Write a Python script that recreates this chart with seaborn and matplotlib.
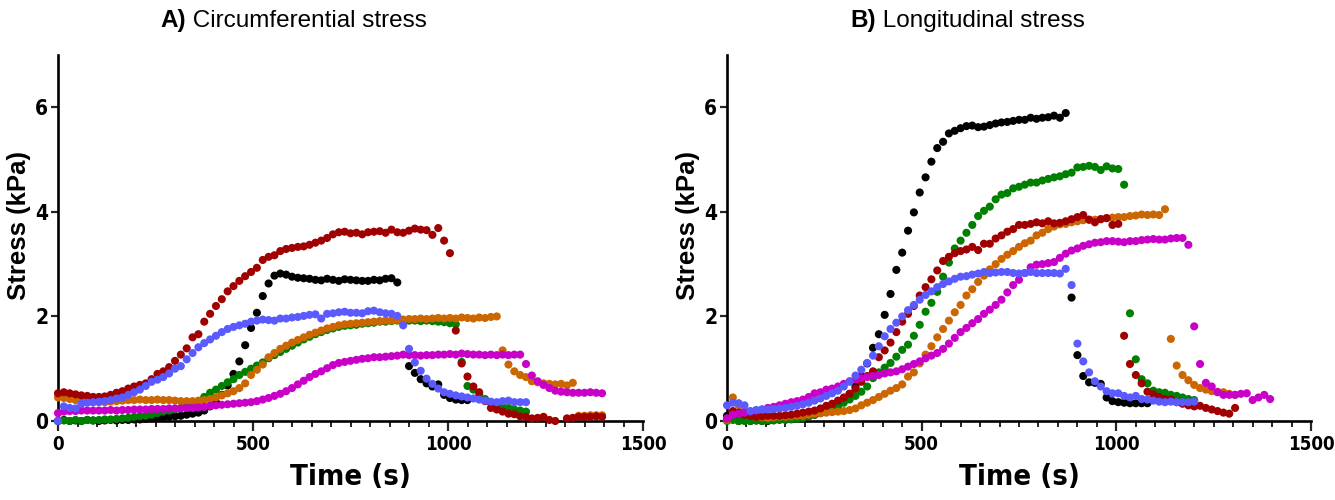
import numpy as np
import pandas as pd
import matplotlib
matplotlib.use("Agg")
import matplotlib.pyplot as plt
from matplotlib.ticker import MultipleLocator, FixedLocator
from matplotlib import font_manager as fm
import seaborn as sns

# ---------------- data (stress in kPa, sampled every 15 s) ----------------
dt = 15
nan = np.nan

# Panel A: circumferential stress
circ_black = [0.0, 0.02, 0.0, 0.01, 0.0, 0.02, 0.01, 0.0, 0.01, 0.02, 0.01, 0.02, 0.02, 0.03, 0.03, 0.04,
              0.05, 0.06, 0.07, 0.08, 0.09, 0.1, 0.12, 0.14, 0.16, 0.2, 0.28, 0.36, 0.5, 0.68, 0.9, 1.14,
              1.45, 1.78, 2.07, 2.39, 2.63, 2.78, 2.82, 2.8, 2.76, 2.74, 2.73, 2.72, 2.7, 2.69, 2.72, 2.7,
              2.68, 2.71, 2.7, 2.69, 2.68, 2.68, 2.7, 2.69, 2.72, 2.73, 2.65, nan, 1.05, 0.92, 0.8, 0.72,
              0.66, 0.7, 0.5, 0.44, 0.41, 0.4, 0.4]
circ_green = [0.0, 0.01, 0.0, 0.02, 0.0, 0.02, 0.01, 0.02, 0.03, 0.03, 0.04, 0.05, 0.06, 0.08, 0.09, 0.1,
              0.12, 0.15, 0.18, 0.2, 0.22, 0.25, 0.28, 0.32, 0.38, 0.46, 0.54, 0.6, 0.67, 0.74, 0.8, 0.88,
              0.94, 1.0, 1.06, 1.12, 1.2, 1.26, 1.32, 1.38, 1.44, 1.5, 1.56, 1.61, 1.66, 1.7, 1.74, 1.77,
              1.8, 1.82, 1.83, 1.84, 1.86, 1.87, 1.88, 1.9, 1.9, 1.91, 1.92, 1.92, 1.92, 1.92, 1.91, 1.92,
              1.91, 1.9, 1.89, 1.87, 1.85, 1.13, 0.67, 0.6, 0.5, 0.42, 0.35, 0.3, 0.27, 0.25, 0.22, 0.2, 0.18]
circ_orange = [0.45, 0.44, 0.42, 0.4, 0.38, 0.37, 0.36, 0.36, 0.36, 0.37, 0.38, 0.39, 0.4, 0.4, 0.41, 0.4,
               0.4, 0.41, 0.4, 0.4, 0.39, 0.38, 0.38, 0.38, 0.39, 0.4, 0.42, 0.45, 0.49, 0.53, 0.57, 0.63,
               0.72, 0.88, 0.98, 1.08, 1.22, 1.3, 1.38, 1.44, 1.5, 1.55, 1.6, 1.65, 1.69, 1.73, 1.77, 1.8,
               1.83, 1.85, 1.86, 1.87, 1.88, 1.89, 1.9, 1.91, 1.92, 1.92, 1.93, 1.94, 1.95, 1.95, 1.96, 1.95,
               1.96, 1.97, 1.96, 1.97, 1.96, 1.98, 1.97, 1.96, 1.98, 1.97, 1.99, 2.0, 1.35, 1.08, 0.95, 0.88,
               0.84, 0.76, 0.74, 0.72, 0.71, 0.7, 0.71, 0.68, 0.73, 0.1, 0.1, 0.11, 0.11, 0.11]
circ_red = [0.53, 0.55, 0.53, 0.51, 0.49, 0.48, 0.46, 0.46, 0.47, 0.5, 0.54, 0.57, 0.62, 0.66, 0.69, 0.72,
            0.8, 0.9, 0.95, 1.03, 1.15, 1.27, 1.39, 1.6, 1.66, 1.9, 2.05, 2.2, 2.33, 2.48, 2.58, 2.68,
            2.77, 2.85, 2.93, 3.08, 3.14, 3.17, 3.25, 3.29, 3.31, 3.33, 3.34, 3.37, 3.41, 3.45, 3.5, 3.57,
            3.61, 3.62, 3.59, 3.6, 3.57, 3.61, 3.62, 3.63, 3.6, 3.66, 3.61, 3.6, 3.64, 3.68, 3.66, 3.65,
            3.56, 3.69, 3.45, 3.21, 1.73, 1.1, 0.85, 0.66, 0.55, 0.38, 0.25, 0.22, 0.18, 0.14, 0.13, 0.09,
            0.08, 0.05, 0.06, 0.08, 0.02, 0.0, nan, 0.05, 0.06, 0.08, 0.08, 0.08, 0.09, 0.08]
circ_magenta = [0.15, 0.18, 0.19, 0.19, 0.2, 0.2, 0.2, 0.2, 0.2, 0.21, 0.2, 0.21, 0.21, 0.22, 0.22, 0.22,
                0.23, 0.23, 0.23, 0.24, 0.24, 0.24, 0.25, 0.25, 0.26, 0.27, 0.29, 0.3, 0.31, 0.32, 0.33, 0.34,
                0.35, 0.36, 0.38, 0.41, 0.44, 0.48, 0.52, 0.57, 0.63, 0.7, 0.77, 0.84, 0.9, 0.95, 1.01, 1.07,
                1.11, 1.13, 1.15, 1.17, 1.19, 1.2, 1.22, 1.22, 1.23, 1.24, 1.25, 1.27, 1.26, 1.26, 1.25, 1.26,
                1.26, 1.27, 1.27, 1.28, 1.27, 1.29, 1.28, 1.27, 1.27, 1.26, 1.27, 1.26, 1.27, 1.26, 1.27, 1.27,
                1.09, 0.87, 0.76, 0.69, 0.63, 0.58, 0.56, 0.55, 0.54, 0.54, 0.54, 0.55, 0.54, 0.53]
circ_blue = [0.0, 0.28, 0.25, 0.24, 0.33, 0.35, 0.36, 0.37, 0.38, 0.4, 0.43, 0.45, 0.5, 0.55, 0.6, 0.67,
             0.75, 0.79, 0.84, 0.91, 1.0, 1.05, 1.18, 1.3, 1.41, 1.49, 1.56, 1.63, 1.7, 1.76, 1.8, 1.83,
             1.86, 1.9, 1.92, 1.94, 1.93, 1.92, 1.96, 1.96, 1.98, 1.99, 2.01, 2.03, 2.04, 1.96, 2.05, 2.06,
             2.08, 2.09, 2.07, 2.07, 2.06, 2.1, 2.11, 2.08, 2.06, 2.05, 2.01, 1.83, 1.38, 1.12, 0.96, 0.81,
             0.71, 0.62, 0.55, 0.52, 0.49, 0.47, 0.45, 0.43, 0.41, 0.39, 0.37, 0.36, 0.38, 0.39, 0.36, 0.36, 0.36]

# Panel B: longitudinal stress
long_black = [0.1, 0.05, 0.0, 0.02, 0.0, 0.01, 0.0, 0.0, 0.02, 0.03, 0.03, 0.04, 0.05, 0.07, 0.09, 0.12,
              0.15, 0.19, 0.24, 0.3, 0.4, 0.52, 0.66, 0.85, 1.1, 1.4, 1.66, 2.03, 2.43, 2.89, 3.22, 3.64,
              3.99, 4.37, 4.66, 4.96, 5.22, 5.34, 5.5, 5.55, 5.6, 5.64, 5.65, 5.62, 5.63, 5.66, 5.69, 5.71,
              5.72, 5.74, 5.76, 5.76, 5.8, 5.78, 5.8, 5.81, 5.84, 5.8, 5.89, 2.36, 1.26, 0.86, 0.74, 0.73,
              0.71, 0.45, 0.38, 0.36, 0.35, 0.34, 0.34, 0.34, 0.34]
long_green = [0.0, 0.02, 0.0, 0.0, 0.0, 0.01, 0.0, 0.01, 0.01, 0.02, 0.02, 0.03, 0.04, 0.06, 0.09, 0.12,
              0.16, 0.2, 0.24, 0.29, 0.35, 0.41, 0.48, 0.56, 0.66, 0.82, 0.93, 1.02, 1.11, 1.23, 1.36, 1.46,
              1.63, 1.84, 2.09, 2.26, 2.47, 2.76, 3.03, 3.3, 3.45, 3.6, 3.75, 3.92, 4.02, 4.1, 4.24, 4.33,
              4.36, 4.45, 4.48, 4.52, 4.56, 4.56, 4.6, 4.63, 4.66, 4.68, 4.72, 4.75, 4.85, 4.86, 4.88, 4.86,
              4.8, 4.87, 4.83, 4.82, 4.52, 2.06, 1.18, 0.8, 0.72, 0.58, 0.55, 0.54, 0.5, 0.48, 0.45, 0.42, 0.4]
long_orange = [0.02, 0.45, 0.3, 0.2, 0.12, 0.08, 0.07, 0.06, 0.07, 0.08, 0.08, 0.09, 0.1, 0.1, 0.12, 0.14,
               0.15, 0.16, 0.17, 0.18, 0.19, 0.21, 0.24, 0.3, 0.35, 0.4, 0.46, 0.52, 0.58, 0.63, 0.7, 0.85,
               0.93, 1.1, 1.27, 1.43, 1.6, 1.76, 1.92, 2.08, 2.22, 2.4, 2.52, 2.66, 2.78, 2.9, 3.0, 3.1,
               3.18, 3.25, 3.33, 3.4, 3.45, 3.55, 3.6, 3.67, 3.72, 3.76, 3.77, 3.8, 3.82, 3.84, 3.85, 3.85,
               3.86, 3.88, 3.89, 3.9, 3.9, 3.92, 3.93, 3.95, 3.94, 3.95, 3.94, 4.05, 1.57, 1.06, 0.88, 0.78,
               0.69, 0.63, 0.6, 0.57, 0.56, 0.55, 0.52, 0.5]
long_red = [0.05, 0.19, 0.16, 0.12, 0.1, 0.08, 0.09, 0.1, 0.1, 0.1, 0.11, 0.12, 0.14, 0.16, 0.18, 0.2,
            0.24, 0.29, 0.33, 0.39, 0.45, 0.52, 0.62, 0.75, 0.86, 0.95, 1.22, 1.35, 1.5, 1.7, 1.9, 2.05,
            2.2, 2.4, 2.56, 2.71, 2.88, 3.06, 3.14, 3.21, 3.25, 3.28, 3.33, 3.27, 3.39, 3.39, 3.49, 3.55,
            3.62, 3.67, 3.75, 3.75, 3.77, 3.8, 3.78, 3.82, 3.78, 3.79, 3.82, 3.86, 3.9, 3.94, 3.85, 3.8,
            3.86, 3.88, 3.75, 3.77, 1.63, 1.09, 0.88, 0.72, 0.56, 0.51, 0.46, 0.42, 0.41, 0.36, 0.33, 0.3,
            0.28, 0.29, 0.25, 0.22, 0.19, 0.16, 0.14, 0.25]
long_magenta = [0.05, 0.12, 0.14, 0.16, 0.18, 0.2, 0.22, 0.25, 0.27, 0.3, 0.33, 0.36, 0.38, 0.41, 0.46, 0.53,
                0.55, 0.6, 0.62, 0.66, 0.71, 0.76, 0.8, 0.82, 0.84, 0.86, 0.88, 0.91, 0.93, 0.95, 0.99, 1.04,
                1.09, 1.14, 1.2, 1.25, 1.3, 1.38, 1.48, 1.59, 1.7, 1.78, 1.87, 1.95, 2.05, 2.13, 2.22, 2.32,
                2.46, 2.6, 2.7, 2.83, 2.94, 2.99, 3.0, 3.02, 3.04, 3.12, 3.2, 3.26, 3.3, 3.35, 3.38, 3.41,
                3.42, 3.44, 3.44, 3.43, 3.42, 3.44, 3.44, 3.46, 3.47, 3.48, 3.47, 3.47, 3.49, 3.5, 3.5, 3.37,
                1.81, 1.09, 0.73, 0.66, 0.55, 0.5, 0.5, 0.5, 0.52, 0.53, 0.4, 0.45, 0.5, 0.42]
long_blue = [0.3, 0.35, 0.34, 0.3, 0.19, 0.21, 0.22, 0.22, 0.23, 0.24, 0.25, 0.27, 0.29, 0.32, 0.35, 0.39,
             0.43, 0.48, 0.53, 0.58, 0.66, 0.75, 0.87, 0.98, 1.11, 1.25, 1.43, 1.62, 1.76, 1.88, 2.0, 2.12,
             2.22, 2.32, 2.41, 2.48, 2.56, 2.62, 2.67, 2.72, 2.76, 2.77, 2.8, 2.82, 2.85, 2.83, 2.84, 2.85,
             2.85, 2.83, 2.82, 2.83, 2.85, 2.83, 2.83, 2.83, 2.83, 2.82, 2.91, 2.6, 1.48, 1.14, 0.93, 0.76,
             0.66, 0.57, 0.53, 0.53, 0.48, 0.45, 0.48, 0.42, 0.41, 0.39, 0.37, 0.36, 0.37, 0.36, 0.36, 0.36, 0.37]

series_order = ["black", "green", "orange", "red", "magenta", "blue"]
colors = {"black": "#000000", "green": "#008000", "orange": "#CC6600",
          "red": "#A00000", "magenta": "#C800C8", "blue": "#5A5AFF"}

panels = {
    "A": {"black": circ_black, "green": circ_green, "orange": circ_orange,
          "red": circ_red, "magenta": circ_magenta, "blue": circ_blue},
    "B": {"black": long_black, "green": long_green, "orange": long_orange,
          "red": long_red, "magenta": long_magenta, "blue": long_blue},
}
titles = {"A": ("A)", " Circumferential stress"), "B": ("B)", " Longitudinal stress")}
x_ticks = [0, 500, 1000, 1500]
y_ticks = [0, 2, 4, 6]

# ---------------- style ----------------
sns.set_theme(style="ticks")
fonts = fm.fontManager.ttflist
avail = {f.name for f in fonts}
base_font = "Liberation Sans" if "Liberation Sans" in avail else "DejaVu Sans"

# look for a condensed bold face for the tick labels / x label
narrow_kw = {"family": [base_font, "DejaVu Sans"]}
if "Liberation Sans Narrow" in avail:
    narrow_kw = {"family": ["Liberation Sans Narrow", "DejaVu Sans"]}
else:
    cond = [f for f in fonts if f.name == "DejaVu Sans" and "condensed" in str(f.stretch)
            and f.weight in ("bold", 700)]
    if cond:
        narrow_kw = {"family": ["DejaVu Sans"], "stretch": "condensed"}
plt.rcParams["font.family"] = [base_font, "DejaVu Sans"]

fig = plt.figure(figsize=(13.35, 5.0), dpi=100)
W, H = 1335, 500
axes_px = {"A": (58, 55, 585, 366), "B": (727, 55, 584, 366)}  # left, top, width, height
title_left = {"A": 160, "B": 850}

for key in ["A", "B"]:
    l, t, w, h = axes_px[key]
    ax = fig.add_axes([l / W, 1 - (t + h) / H, w / W, h / H])
    rows = []
    for name in series_order:
        vals = panels[key][name]
        for i, v in enumerate(vals):
            rows.append((i * dt, v, name))
    df = pd.DataFrame(rows, columns=["time", "stress", "series"]).dropna()
    for name in series_order:
        sns.scatterplot(data=df[df["series"] == name], x="time", y="stress",
                        color=colors[name], s=34, linewidth=0, edgecolor="none",
                        legend=False, ax=ax, clip_on=False, zorder=3)
    ax.set_xlim(0, 1500)
    ax.set_ylim(0, 7)
    ax.xaxis.set_major_locator(FixedLocator(x_ticks))
    ax.xaxis.set_minor_locator(MultipleLocator(50))
    ax.yaxis.set_major_locator(FixedLocator(y_ticks))
    for side in ["top", "right"]:
        ax.spines[side].set_visible(False)
    for side in ["left", "bottom"]:
        ax.spines[side].set_linewidth(1.9)
        ax.spines[side].set_color("black")
    ax.tick_params(axis="x", which="major", length=7, width=1.6, direction="out", pad=3)
    ax.tick_params(axis="x", which="minor", length=4, width=1.4, direction="out")
    ax.tick_params(axis="y", which="major", length=5, width=1.6, direction="out", pad=2)
    for lab in ax.get_xticklabels():
        lab.set_fontweight("bold")
        lab.set_fontsize(13.0)
        lab.set_color("black")
        lab.set_fontfamily(narrow_kw["family"])
        if "stretch" in narrow_kw:
            lab.set_fontstretch(narrow_kw["stretch"])
            lab.set_fontsize(13.5)
    for lab in ax.get_yticklabels():
        lab.set_fontweight("bold")
        lab.set_fontsize(14.5)
        lab.set_color("black")
        lab.set_fontfamily(narrow_kw["family"])
        if "stretch" in narrow_kw:
            lab.set_fontstretch(narrow_kw["stretch"])
            lab.set_fontsize(15)
    ax.set_xlabel("Time (s)", fontsize=21, fontweight="bold", color="black", **narrow_kw)
    ax.set_ylabel("Stress (kPa)", fontsize=18.5, fontweight="bold", color="black",
                  family=[base_font, "DejaVu Sans"])
    ax.xaxis.set_label_coords(0.5, -0.115)
    ax.yaxis.set_label_coords(-0.046, 0.535)
    ax.set_facecolor("white")

# titles: bold letter followed by regular text
fig.canvas.draw()
renderer = fig.canvas.get_renderer()
for key in ["A", "B"]:
    bold_part, rest = titles[key]
    x0 = title_left[key] / W
    tb = fig.text(x0, 1 - 21 / H, bold_part, fontsize=17.5, fontweight="bold",
                  ha="left", va="center", color="black")
    bb = tb.get_window_extent(renderer=renderer)
    fig.text(bb.x1 / W, 1 - 21 / H, rest, fontsize=17.5, fontweight="normal",
             ha="left", va="center", color="black")

fig.savefig("out.png", dpi=100, facecolor="white")
